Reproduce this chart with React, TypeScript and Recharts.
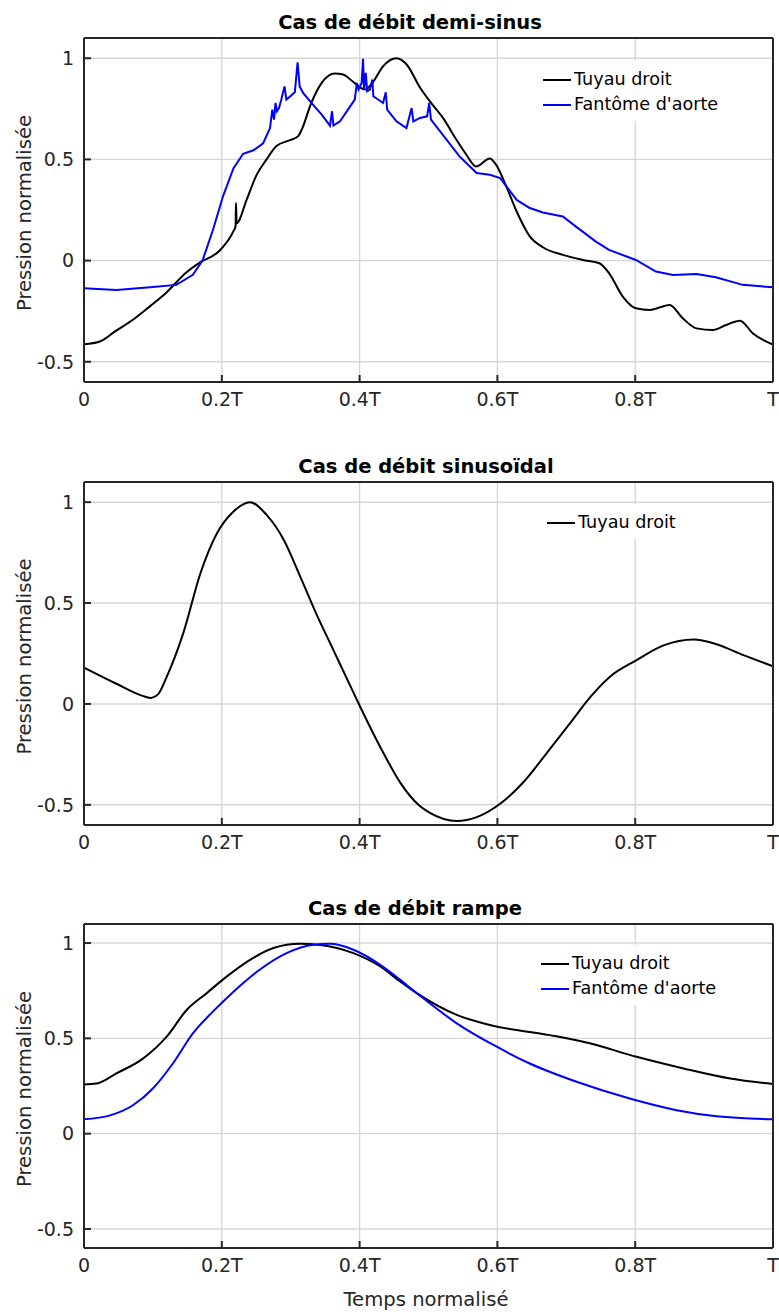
import React from 'react';
import { LineChart, Line, XAxis, YAxis, CartesianGrid, Legend } from 'recharts';

const FONT = '"DejaVu Sans", Verdana, sans-serif';
const AX = '#262626';
const GRID = '#d6d6d6';
const BLACK = '#000000';
const BLUE = '#0000ff';

// ---- axis ticks ----
const xTicks = [0, 0.2, 0.4, 0.6, 0.8, 1];
const xTickLabels = ['0', '0.2T', '0.4T', '0.6T', '0.8T', 'T'];
const yTicks = [-0.5, 0, 0.5, 1];
const yTickLabels = ['-0.5', '0', '0.5', '1'];
const yDomain = [-0.6, 1.1];

// ---- texts ----
const titles = ['Cas de débit demi-sinus', 'Cas de débit sinusoïdal', 'Cas de débit rampe'];
const seriesNames = ['Tuyau droit', "Fantôme d'aorte"];
const yLabel = 'Pression normalisée';
const xLabel = 'Temps normalisé';

// ---- panel 1 : demi-sinus ----
const demiDroitT = [0, 0.023, 0.045, 0.072, 0.096, 0.119, 0.148, 0.168, 0.197, 0.2167, 0.22, 0.2206, 0.2215, 0.236, 0.25, 0.265, 0.279, 0.299, 0.311, 0.316, 0.33, 0.345, 0.364, 0.376, 0.39, 0.408, 0.419, 0.434, 0.4535, 0.468, 0.488, 0.506, 0.521, 0.54, 0.555, 0.569, 0.589, 0.598, 0.613, 0.627, 0.647, 0.666, 0.695, 0.724, 0.748, 0.762, 0.782, 0.801, 0.821, 0.85, 0.869, 0.889, 0.913, 0.932, 0.952, 0.971, 1.0];
const demiDroitV = [-0.414, -0.4, -0.35, -0.29, -0.225, -0.16, -0.06, -0.01, 0.05, 0.144, 0.17, 0.284, 0.185, 0.3, 0.42, 0.5, 0.565, 0.595, 0.615, 0.647, 0.78, 0.878, 0.924, 0.92, 0.885, 0.845, 0.88, 0.96, 1.0, 0.97, 0.853, 0.77, 0.705, 0.6, 0.523, 0.465, 0.505, 0.474, 0.366, 0.25, 0.12, 0.066, 0.028, 0.003, -0.013, -0.062, -0.178, -0.236, -0.244, -0.219, -0.285, -0.335, -0.343, -0.318, -0.297, -0.36, -0.415];

const demiAorteT = [0, 0.047, 0.096, 0.134, 0.158, 0.172, 0.187, 0.202, 0.217, 0.231, 0.246, 0.26, 0.27, 0.2733, 0.2758, 0.278, 0.28, 0.283, 0.2864, 0.291, 0.2937, 0.2965, 0.306, 0.31, 0.313, 0.318, 0.33, 0.345, 0.357, 0.36, 0.362, 0.3716, 0.393, 0.396, 0.3985, 0.4006, 0.403, 0.405, 0.4065, 0.409, 0.411, 0.415, 0.4185, 0.42, 0.434, 0.438, 0.44, 0.4535, 0.468, 0.4755, 0.478, 0.4877, 0.498, 0.501, 0.5036, 0.545, 0.5698, 0.589, 0.604, 0.628, 0.647, 0.666, 0.695, 0.714, 0.743, 0.762, 0.801, 0.83, 0.855, 0.889, 0.917, 0.956, 1.0];
const demiAorteV = [-0.137, -0.145, -0.132, -0.12, -0.07, 0.0, 0.15, 0.32, 0.457, 0.528, 0.545, 0.58, 0.655, 0.746, 0.697, 0.779, 0.738, 0.754, 0.796, 0.861, 0.796, 0.804, 0.832, 0.98, 0.861, 0.829, 0.779, 0.721, 0.667, 0.738, 0.667, 0.688, 0.796, 0.878, 0.845, 0.861, 0.878, 0.997, 0.845, 0.928, 0.837, 0.845, 0.895, 0.812, 0.779, 0.832, 0.746, 0.688, 0.655, 0.754, 0.688, 0.705, 0.713, 0.779, 0.697, 0.515, 0.433, 0.424, 0.408, 0.3, 0.26, 0.238, 0.218, 0.168, 0.094, 0.053, 0.003, -0.054, -0.071, -0.066, -0.082, -0.12, -0.132];

// ---- panel 2 : sinusoïdal ----
const sinusDroitT = [0, 0.047, 0.085, 0.096, 0.108, 0.12, 0.144, 0.169, 0.193, 0.217, 0.241, 0.265, 0.29, 0.314, 0.338, 0.362, 0.386, 0.401, 0.435, 0.459, 0.473, 0.487, 0.502, 0.541, 0.57, 0.604, 0.638, 0.671, 0.705, 0.735, 0.763, 0.802, 0.841, 0.885, 0.918, 0.957, 1.0];
const sinusDroitV = [0.18, 0.1, 0.04, 0.03, 0.05, 0.134, 0.35, 0.648, 0.846, 0.954, 1.0, 0.937, 0.813, 0.63, 0.44, 0.267, 0.093, -0.015, -0.246, -0.39, -0.455, -0.505, -0.54, -0.58, -0.561, -0.495, -0.387, -0.246, -0.098, 0.035, 0.134, 0.217, 0.29, 0.32, 0.296, 0.242, 0.187];

// ---- panel 3 : rampe ----
const rampeDroitT = [0, 0.018, 0.047, 0.086, 0.12, 0.149, 0.178, 0.207, 0.241, 0.275, 0.313, 0.343, 0.391, 0.43, 0.459, 0.483, 0.541, 0.589, 0.676, 0.734, 0.802, 0.87, 0.938, 1.0];
const rampeDroitV = [0.258, 0.263, 0.316, 0.395, 0.509, 0.649, 0.737, 0.824, 0.912, 0.974, 0.996, 0.99, 0.947, 0.877, 0.798, 0.737, 0.623, 0.57, 0.517, 0.474, 0.403, 0.342, 0.289, 0.26];
const rampeAorteT = [0, 0.038, 0.071, 0.1, 0.129, 0.158, 0.187, 0.217, 0.255, 0.294, 0.333, 0.357, 0.391, 0.43, 0.459, 0.483, 0.541, 0.599, 0.647, 0.715, 0.792, 0.86, 0.918, 1.0];
const rampeAorteV = [0.075, 0.096, 0.149, 0.237, 0.368, 0.526, 0.64, 0.745, 0.86, 0.947, 0.991, 0.996, 0.965, 0.886, 0.807, 0.737, 0.579, 0.456, 0.368, 0.272, 0.184, 0.123, 0.091, 0.075];

const zip = (t: number[], v: number[]) => t.map((x, i) => ({ t: x, v: v[i] }));

const fmtX = (val: number) => {
  const i = xTicks.findIndex((x) => Math.abs(x - val) < 1e-9);
  return i >= 0 ? xTickLabels[i] : String(val);
};
const fmtY = (val: number) => {
  const i = yTicks.findIndex((x) => Math.abs(x - val) < 1e-9);
  return i >= 0 ? yTickLabels[i] : String(val);
};

type Series = { name: string; color: string; data: { t: number; v: number }[]; type: 'linear' | 'monotone' };

type PanelProps = {
  top: number;
  height: number;
  marginTop: number;
  marginBottom: number;
  xAxisHeight: number;
  title: string;
  titleX: number;
  series: Series[];
  legendLeft: number;
  legendTop: number;
  showXLabel: boolean;
};

const LegendContent = (props: any) => {
  const payload = [...(props.payload || [])].sort(
    (a: any, b: any) => seriesNames.indexOf(a.value) - seriesNames.indexOf(b.value)
  );
  return (
    <div style={{ background: '#ffffff', padding: '6px 14px 4px 7px' }}>
      {payload.map((p: any, i: number) => (
        <div key={i} style={{ display: 'flex', alignItems: 'center', height: 25 }}>
          <svg width={28} height={4} style={{ display: 'block' }}>
            <line x1={0} y1={2} x2={28} y2={2} stroke={p.color} strokeWidth={2} />
          </svg>
          <span style={{ marginLeft: 3, fontFamily: FONT, fontSize: 17.6, color: '#000', whiteSpace: 'nowrap', lineHeight: '25px' }}>
            {p.value}
          </span>
        </div>
      ))}
    </div>
  );
};

const Panel = (p: PanelProps) => {
  const tickStyle = { fill: AX, fontSize: 19, fontFamily: FONT };
  const axisLine = { stroke: AX, strokeWidth: 2 };
  return (
    <div style={{ position: 'absolute', left: 0, top: p.top, width: 779, height: p.height }}>
      <LineChart width={779} height={p.height} margin={{ top: p.marginTop - 1, right: 5, bottom: p.marginBottom, left: 0 }}>
        <CartesianGrid xAxisId="b" yAxisId="l" stroke={GRID} strokeWidth={1.4} />
        <XAxis
          xAxisId="b"
          type="number"
          dataKey="t"
          domain={[0, 1]}
          ticks={xTicks}
          interval={0}
          tickFormatter={fmtX}
          height={p.xAxisHeight}
          tickSize={-7}
          tickMargin={18}
          axisLine={axisLine}
          tickLine={axisLine}
          tick={tickStyle}
          allowDataOverflow
          label={
            p.showXLabel
              ? {
                  content: (lp: any) => {
                    const vb = lp.viewBox;
                    return (
                      <text x={426} y={vb.y + 58} textAnchor="middle" fontFamily={FONT} fontSize={19.6} fill={AX}>
                        {xLabel}
                      </text>
                    );
                  },
                }
              : undefined
          }
        />
        <XAxis
          xAxisId="top"
          orientation="top"
          type="number"
          dataKey="t"
          domain={[0, 1]}
          ticks={xTicks}
          interval={0}
          height={1}
          tickSize={-7}
          axisLine={axisLine}
          tickLine={axisLine}
          tick={false}
          allowDataOverflow
          label={{
            content: (lp: any) => {
              const vb = lp.viewBox;
              return (
                <text x={p.titleX} y={vb.y + vb.height - 9} textAnchor="middle" fontFamily={FONT} fontWeight="bold" fontSize={19.5} fill="#000">
                  {p.title}
                </text>
              );
            },
          }}
        />
        <YAxis
          yAxisId="l"
          type="number"
          domain={yDomain}
          ticks={yTicks}
          interval={0}
          tickFormatter={fmtY}
          width={84}
          tickSize={-7}
          tickMargin={17}
          axisLine={axisLine}
          tickLine={axisLine}
          tick={tickStyle}
          allowDataOverflow
          label={{
            content: (lp: any) => {
              const vb = lp.viewBox;
              const cy = vb.y + vb.height / 2 + 3;
              return (
                <text x={31} y={cy} transform={`rotate(-90, 31, ${cy})`} textAnchor="middle" fontFamily={FONT} fontSize={19.6} fill={AX}>
                  {yLabel}
                </text>
              );
            },
          }}
        />
        <YAxis
          yAxisId="r"
          orientation="right"
          type="number"
          domain={yDomain}
          ticks={yTicks}
          interval={0}
          width={1}
          tickSize={-7}
          axisLine={axisLine}
          tickLine={axisLine}
          tick={false}
          allowDataOverflow
        />
        <Legend
          layout="vertical"
          align="center"
          verticalAlign="middle"
          wrapperStyle={{ left: p.legendLeft, top: p.legendTop, width: 'auto' }}
          content={<LegendContent />}
        />
        {p.series.map((s) => (
          <Line
            key={s.name}
            xAxisId="b"
            yAxisId="l"
            data={s.data}
            dataKey="v"
            name={s.name}
            type={s.type}
            stroke={s.color}
            strokeWidth={2}
            dot={false}
            activeDot={false}
            isAnimationActive={false}
          />
        ))}
      </LineChart>
    </div>
  );
};

export default function App() {
  return (
    <div style={{ position: 'absolute', left: 0, top: 0, width: 779, height: 1316, background: '#ffffff' }}>
      <Panel
        top={0}
        height={442}
        marginTop={38}
        marginBottom={30}
        xAxisHeight={30}
        title={titles[0]}
        titleX={410}
        series={[
          { name: seriesNames[0], color: BLACK, data: zip(demiDroitT, demiDroitV), type: 'monotone' },
          { name: seriesNames[1], color: BLUE, data: zip(demiAorteT, demiAorteV), type: 'linear' },
        ]}
        legendLeft={536}
        legendTop={61}
        showXLabel={false}
      />
      <Panel
        top={442}
        height={442}
        marginTop={40}
        marginBottom={29}
        xAxisHeight={30}
        title={titles[1]}
        titleX={426}
        series={[{ name: seriesNames[0], color: BLACK, data: zip(sinusDroitT, sinusDroitV), type: 'monotone' }]}
        legendLeft={540}
        legendTop={62}
        showXLabel={false}
      />
      <Panel
        top={884}
        height={432}
        marginTop={40}
        marginBottom={8}
        xAxisHeight={60}
        title={titles[2]}
        titleX={415}
        series={[
          { name: seriesNames[0], color: BLACK, data: zip(rampeDroitT, rampeDroitV), type: 'monotone' },
          { name: seriesNames[1], color: BLUE, data: zip(rampeAorteT, rampeAorteV), type: 'monotone' },
        ]}
        legendLeft={534}
        legendTop={61}
        showXLabel={true}
      />
    </div>
  );
}
